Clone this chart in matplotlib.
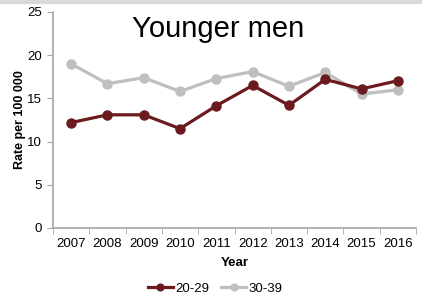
import matplotlib
matplotlib.use("Agg")
import matplotlib.pyplot as plt
import numpy as np

plt.rcParams['font.family'] = ['Liberation Sans', 'DejaVu Sans']

years = ['2007', '2008', '2009', '2010', '2011', '2012', '2013', '2014', '2015', '2016']
age_20_29 = [12.2, 13.1, 13.1, 11.5, 14.15, 16.5, 14.2, 17.2, 16.1, 17.05]
age_30_39 = [19.0, 16.7, 17.4, 15.8, 17.3, 18.1, 16.4, 18.0, 15.5, 16.0]

dark = '#6B1A1E'
light = '#BFBFBF'
axis_grey = '#A6A6A6'

fig = plt.figure(figsize=(4.22, 3.03), dpi=100)
ax = fig.add_axes([53 / 422, 1 - 228 / 303, 363 / 422, 216 / 303])

x = np.arange(len(years))
ax.plot(x, age_30_39, color=light, lw=2.3, marker='o', ms=6.5, label='30-39', zorder=2)
ax.plot(x, age_20_29, color=dark, lw=2.3, marker='o', ms=6.5, label='20-29', zorder=3)

ax.set_xlim(-0.5, len(years) - 0.5)
ax.set_ylim(0, 25)
ax.set_yticks([0, 5, 10, 15, 20, 25])
ax.set_xticks(x)
ax.set_xticklabels(years)
ax.set_xticks(np.arange(-0.5, len(years)), minor=True)
ax.tick_params(axis='x', which='major', length=0, pad=7, labelsize=9.5)
ax.tick_params(axis='x', which='minor', length=4, color=axis_grey, direction='out')
ax.tick_params(axis='y', length=4, color=axis_grey, labelsize=9.5, pad=4)

for s in ['top', 'right']:
    ax.spines[s].set_visible(False)
for s in ['left', 'bottom']:
    ax.spines[s].set_color(axis_grey)
    ax.spines[s].set_linewidth(1.2)

ax.set_xlabel('Year', fontsize=9.5, fontweight='bold', labelpad=5)
ax.set_ylabel('Rate per 100 000', fontsize=9, fontweight='bold', labelpad=1)

ax.text(0.455, 0.985, 'Younger men', transform=ax.transAxes, fontsize=21,
        ha='center', va='top')

handles, labels = ax.get_legend_handles_labels()
fig.legend(handles[::-1], labels[::-1], loc='center', bbox_to_anchor=(0.51, 0.048),
           ncol=2, frameon=False, fontsize=9.5, handlelength=1.9, handletextpad=0.2,
           columnspacing=0.9, markerscale=0.75)

fig.patches.append(plt.Rectangle((0, 1 - 2.5 / 303), 1, 2.5 / 303, transform=fig.transFigure,
                                 color='#D9D9D9', zorder=0))

fig.savefig('out.png', dpi=100)
